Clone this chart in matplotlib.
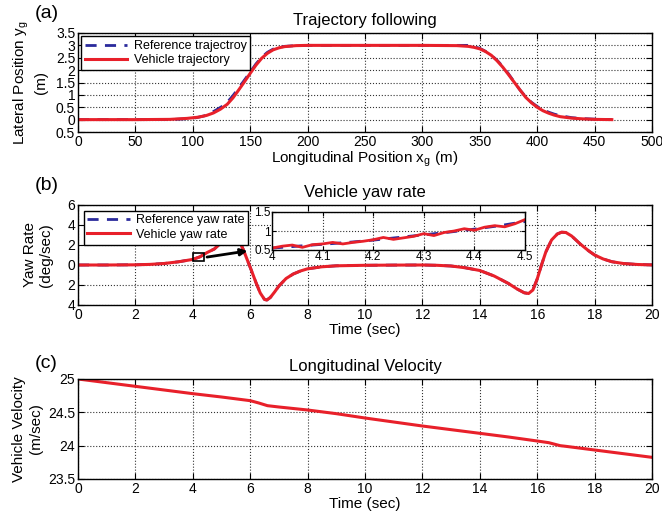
import matplotlib
matplotlib.use("Agg")
import matplotlib.pyplot as plt
from matplotlib.patches import Rectangle

plt.rcParams['font.family'] = ['Liberation Sans', 'DejaVu Sans']
plt.rcParams['mathtext.fontset'] = 'custom'
plt.rcParams['mathtext.rm'] = 'Liberation Sans'
plt.rcParams['mathtext.it'] = 'Liberation Sans'

RED = '#e8202a'
BLUE = '#2a2a9c'

# ---- (a) trajectory data ----
veh_x = [0, 50, 80, 95, 105, 112, 118, 124, 130, 135, 140, 145, 150, 155, 160, 165, 170, 175,
         180, 190, 200, 250, 300, 330, 340, 345, 350, 355, 360, 365, 370, 375, 380, 385, 390,
         395, 400, 405, 410, 415, 420, 430, 440, 450, 465]
veh_y = [0, 0, 0.01, 0.05, 0.1, 0.17, 0.27, 0.42, 0.62, 0.88, 1.2, 1.53, 1.87, 2.2, 2.48, 2.68,
         2.82, 2.9, 2.95, 2.99, 3.0, 3.0, 3.0, 2.99, 2.96, 2.92, 2.86, 2.75, 2.6, 2.38, 2.12,
         1.82, 1.51, 1.2, 0.9, 0.68, 0.5, 0.36, 0.26, 0.18, 0.12, 0.06, 0.03, 0.01, 0.0]
ref_x = [0, 80, 100, 110, 115, 120, 125, 130, 135, 140, 145, 150, 155, 160, 165, 170, 175, 180,
         190, 200, 340, 345, 350, 355, 360, 365, 370, 375, 380, 385, 390, 395, 400, 405, 410,
         415, 420, 430, 440, 450, 465]
ref_y = [0, 0, 0.05, 0.15, 0.25, 0.38, 0.52, 0.7, 0.97, 1.28, 1.6, 1.92, 2.25, 2.52, 2.72, 2.85,
         2.92, 2.96, 2.99, 3.0, 3.0, 2.95, 2.88, 2.76, 2.6, 2.4, 2.15, 1.85, 1.52, 1.2, 0.92,
         0.7, 0.53, 0.4, 0.3, 0.22, 0.16, 0.08, 0.04, 0.02, 0.0]

# ---- (b) yaw rate data ----
yaw_t = [0, 1, 2, 2.5, 3, 3.5, 4.0, 4.25, 4.5, 4.75, 4.9, 5.05, 5.2, 5.3, 5.4, 5.5, 5.6, 5.75,
         5.9, 6.05, 6.2, 6.35, 6.5, 6.58, 6.7, 6.85, 7.0, 7.25, 7.5, 7.75, 8.0, 8.5, 9.0, 10,
         11, 12, 12.5, 13, 13.5, 14, 14.5, 15, 15.3, 15.55, 15.7, 15.85, 16.0, 16.15, 16.3,
         16.5, 16.7, 16.85, 17.0, 17.2, 17.5, 17.8, 18.0, 18.3, 18.6, 19.0, 19.5, 20]
yaw_veh = [0, 0, 0.02, 0.06, 0.15, 0.32, 0.56, 0.82, 1.25, 1.6, 2.0, 2.5, 2.85, 2.98, 2.95,
           2.85, 2.55, 1.6, 0.5, -0.6, -1.75, -2.8, -3.45, -3.5, -3.25, -2.7, -2.1, -1.35,
           -0.9, -0.6, -0.38, -0.18, -0.08, -0.03, -0.01, 0, -0.03, -0.1, -0.28, -0.55, -1.1,
           -1.85, -2.4, -2.78, -2.85, -2.5, -1.4, 0.0, 1.3, 2.5, 3.1, 3.28, 3.25, 2.9, 2.1,
           1.4, 1.0, 0.6, 0.33, 0.15, 0.05, 0.01]
yaw_ref = [0, 0, 0.02, 0.06, 0.15, 0.32, 0.56, 0.82, 1.25, 1.6, 2.0, 2.5, 2.85, 2.98, 2.95,
           2.85, 2.55, 1.6, 0.5, -0.6, -1.75, -2.8, -3.45, -3.5, -3.25, -2.7, -2.1, -1.35,
           -0.9, -0.6, -0.38, -0.18, -0.08, -0.03, -0.01, 0, -0.03, -0.1, -0.28, -0.55, -1.1,
           -1.85, -2.4, -2.78, -2.85, -2.5, -1.4, 0.0, 1.3, 2.5, 3.1, 3.28, 3.25, 2.9, 2.1,
           1.4, 1.0, 0.6, 0.33, 0.15, 0.05, 0.01]

# zoomed window 4.0 - 4.5 s
zoom_t = [4.00, 4.02, 4.04, 4.06, 4.08, 4.10, 4.12, 4.14, 4.16, 4.18, 4.20, 4.22, 4.24, 4.26,
          4.28, 4.30, 4.32, 4.34, 4.36, 4.38, 4.40, 4.42, 4.44, 4.46, 4.48, 4.50]
zoom_veh = [0.55, 0.60, 0.63, 0.57, 0.64, 0.66, 0.70, 0.66, 0.70, 0.73, 0.77, 0.83, 0.78, 0.82,
            0.86, 0.93, 0.88, 0.96, 1.00, 1.06, 1.02, 1.10, 1.14, 1.11, 1.19, 1.30]
zoom_ref_t = [4.0, 4.05, 4.1, 4.15, 4.2, 4.25, 4.3, 4.35, 4.4, 4.45, 4.5]
zoom_ref = [0.55, 0.60, 0.65, 0.70, 0.76, 0.83, 0.90, 0.97, 1.05, 1.14, 1.25]

# ---- (c) velocity data ----
vel_t = [0, 1, 2, 3, 4, 5, 6, 6.3, 6.6, 7, 8, 9, 10, 11, 12, 13, 14, 15, 16, 16.4, 16.8, 17,
         18, 19, 20]
vel = [25.0, 24.945, 24.89, 24.835, 24.78, 24.73, 24.675, 24.64, 24.6, 24.58, 24.535, 24.48,
       24.415, 24.355, 24.295, 24.24, 24.185, 24.13, 24.07, 24.045, 24.0, 23.99, 23.935,
       23.88, 23.825]

W, H = 662, 515
fig = plt.figure(figsize=(W / 100, H / 100), dpi=100)


def px_axes(l, t, r, b):
    return fig.add_axes([l / W, 1 - b / H, (r - l) / W, (b - t) / H])


def style(ax, fs=10):
    ax.tick_params(direction='in', top=True, right=True, labelsize=fs, length=4, pad=2)
    ax.grid(True, linestyle=':', color='#333333', linewidth=0.8)
    for s in ax.spines.values():
        s.set_linewidth(1.0)


def add_legend(ax, pad):
    leg = ax.legend(loc='upper left', fontsize=9.0, frameon=True, fancybox=False,
                    edgecolor='black', framealpha=1, handlelength=3.4, borderpad=0.3,
                    labelspacing=0.2, handletextpad=0.5, borderaxespad=pad)
    leg.get_frame().set_linewidth(1.0)


ax1 = px_axes(78, 33, 652, 132)
ax2 = px_axes(78, 205, 652, 305)
ax3 = px_axes(78, 379, 652, 479)

# (a)
ax1.plot(ref_x, ref_y, '--', color=BLUE, lw=2, dashes=(4, 3), label='Reference trajectroy')
ax1.plot(veh_x, veh_y, '-', color=RED, lw=2.2, label='Vehicle trajectory')
ax1.set_xlim(0, 500)
ax1.set_ylim(-0.5, 3.5)
ax1.set_yticks([-0.5, 0, 0.5, 1, 1.5, 2, 2.5, 3, 3.5])
ax1.set_yticklabels(['0.5', '0', '0.5', '1', '1.5', '2', '2.5', '3', '3.5'])
ax1.set_xticks(range(0, 501, 50))
style(ax1)
ax1.set_xlabel('Longitudinal Position x$_\\mathregular{g}$ (m)', fontsize=11, labelpad=1)
ax1.set_ylabel('Lateral Position y$_\\mathregular{g}$\n(m)', fontsize=11, labelpad=6)
ax1.set_title('Trajectory following', fontsize=12, pad=6)
add_legend(ax1, 0.25)

# (b)
ax2.plot(yaw_t, yaw_ref, '--', color=BLUE, lw=2, dashes=(4, 3), label='Reference yaw rate')
ax2.plot(yaw_t, yaw_veh, '-', color=RED, lw=2.2, label='Vehicle yaw rate')
ax2.set_xlim(0, 20)
ax2.set_ylim(-4, 6)
ax2.set_yticks([-4, -2, 0, 2, 4, 6])
ax2.set_yticklabels(['4', '2', '0', '2', '4', '6'])
ax2.set_xticks(range(0, 21, 2))
style(ax2)
ax2.set_xlabel('Time (sec)', fontsize=11, labelpad=1)
ax2.set_ylabel('Yaw Rate\n(deg/sec)', fontsize=11, labelpad=10)
ax2.set_title('Vehicle yaw rate', fontsize=12, pad=6)
add_legend(ax2, 0.45)
ax2.add_patch(Rectangle((4.0, 0.4), 0.4, 0.75, fill=False, edgecolor='black', lw=1.2, zorder=5))
ax2.annotate('', xy=(6.0, 1.45), xytext=(4.4, 0.75),
             arrowprops=dict(arrowstyle='-|>', color='black', lw=2, mutation_scale=10), zorder=6)

axi = px_axes(272, 212, 525, 250)
axi.plot(zoom_ref_t, zoom_ref, '--', color=BLUE, lw=2, dashes=(4, 3))
axi.plot(zoom_t, zoom_veh, '-', color=RED, lw=2)
axi.set_xlim(4.0, 4.5)
axi.set_ylim(0.5, 1.5)
axi.set_xticks([4.0, 4.1, 4.2, 4.3, 4.4, 4.5])
axi.set_xticklabels(['4', '4.1', '4.2', '4.3', '4.4', '4.5'])
axi.set_yticks([0.5, 1, 1.5])
axi.set_yticklabels(['0.5', '1', '1.5'])
style(axi, fs=8.5)
axi.tick_params(length=3, pad=1)

# (c)
ax3.plot(vel_t, vel, '-', color=RED, lw=2.2)
ax3.set_xlim(0, 20)
ax3.set_ylim(23.5, 25)
ax3.set_yticks([23.5, 24, 24.5, 25])
ax3.set_yticklabels(['23.5', '24', '24.5', '25'])
ax3.set_xticks(range(0, 21, 2))
style(ax3)
ax3.set_xlabel('Time (sec)', fontsize=11, labelpad=1)
ax3.set_ylabel('Vehicle Velocity\n(m/sec)', fontsize=11, labelpad=4)
ax3.set_title('Longitudinal Velocity', fontsize=12, pad=6)

fig.text(35 / W, 1 - 14 / H, '(a)', fontsize=14, ha='left', va='center')
fig.text(35 / W, 1 - 186 / H, '(b)', fontsize=14, ha='left', va='center')
fig.text(35 / W, 1 - 364 / H, '(c)', fontsize=14, ha='left', va='center')

fig.savefig('out.png', dpi=100)
